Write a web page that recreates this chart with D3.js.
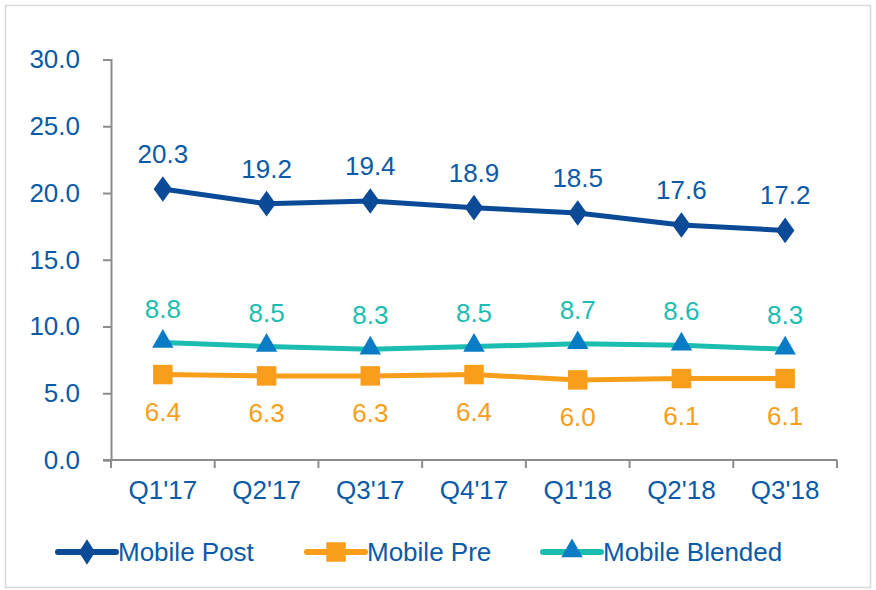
<!DOCTYPE html>
<html>
<head>
<meta charset="utf-8">
<script src="https://cdn.jsdelivr.net/npm/d3@7"></script>
<style>
  html, body { margin: 0; padding: 0; background: #fff; }
  svg { display: block; font-family: "Liberation Sans", Arial, sans-serif; }
</style>
</head>
<body>
<svg id="chart" width="876" height="590"></svg>
<script>
// Quarterly values per mobile segment
const quarters = ["Q1'17", "Q2'17", "Q3'17", "Q4'17", "Q1'18", "Q2'18", "Q3'18"];
const mobilePost = [20.3, 19.2, 19.4, 18.9, 18.5, 17.6, 17.2];
const mobilePre = [6.4, 6.3, 6.3, 6.4, 6.0, 6.1, 6.1];
const mobileBlended = [8.8, 8.5, 8.3, 8.5, 8.7, 8.6, 8.3];
const yTicks = [0, 5, 10, 15, 20, 25, 30];
const seriesNames = ["Mobile Post", "Mobile Pre", "Mobile Blended"];

const svg = d3.select("#chart");
const fontSize = 26;

// outer frame
svg.append("rect")
  .attr("x", 5.5).attr("y", 5.5).attr("width", 865).attr("height", 582)
  .attr("fill", "#fff").attr("stroke", "#d9d9d9").attr("stroke-width", 1.5);

const plotLeft = 111, plotRight = 837, plotTop = 59.5, plotBottom = 460;
const x = d3.scaleBand().domain(quarters).range([plotLeft, plotRight]);
const y = d3.scaleLinear().domain([0, 30]).range([plotBottom, plotTop]);

const axisColor = "#8c8c8c";
const textBlue = "#0B5AA6";

// y axis
const yAxis = svg.append("g").attr("transform", `translate(${plotLeft},0)`)
  .call(d3.axisLeft(y).tickValues(yTicks).tickSize(8).tickPadding(23)
    .tickFormat(d3.format(".1f")));
yAxis.select(".domain").attr("stroke", axisColor).attr("stroke-width", 2);
yAxis.selectAll(".tick line").attr("stroke", axisColor).attr("stroke-width", 2);
yAxis.selectAll(".tick text").attr("fill", textBlue).attr("font-size", fontSize)
  .attr("font-family", "Liberation Sans, Arial, sans-serif");

// x axis with ticks at category boundaries
const xg = svg.append("g");
xg.append("line").attr("x1", plotLeft - 8).attr("x2", plotRight)
  .attr("y1", plotBottom).attr("y2", plotBottom)
  .attr("stroke", axisColor).attr("stroke-width", 2);
const bounds = quarters.map(q => x(q)).concat([x(quarters[quarters.length - 1]) + x.bandwidth()]);
xg.selectAll("line.tk").data(bounds).join("line").attr("class", "tk")
  .attr("x1", d => d).attr("x2", d => d)
  .attr("y1", plotBottom).attr("y2", plotBottom + 8)
  .attr("stroke", axisColor).attr("stroke-width", 2);
xg.selectAll("text").data(quarters).join("text")
  .attr("x", d => x(d) + x.bandwidth() / 2).attr("y", 499)
  .attr("text-anchor", "middle").attr("fill", textBlue).attr("font-size", fontSize)
  .text(d => d);

const cx = q => x(q) + x.bandwidth() / 2;

const series = [
  { name: seriesNames[0], values: mobilePost, line: "#0A4A97", marker: "#0A4A97", label: "#0B5AA6", shape: d3.symbolDiamond, msize: 190, dy: -26, sw: 5 },
  { name: seriesNames[1], values: mobilePre, line: "#F89E1B", marker: "#F89E1B", label: "#F89E1B", shape: d3.symbolSquare, msize: 380, dy: 46, sw: 5 },
  { name: seriesNames[2], values: mobileBlended, line: "#1CBDB1", marker: "#0A7CC6", label: "#1CBDB1", shape: d3.symbolTriangle, msize: 200, dy: -25, sw: 5 }
];

const lineGen = d3.line().x((d, i) => cx(quarters[i])).y(d => y(d));

series.forEach(s => {
  const g = svg.append("g");
  g.append("path").datum(s.values).attr("d", lineGen)
    .attr("fill", "none").attr("stroke", s.line).attr("stroke-width", s.sw);
  g.selectAll("path.m").data(s.values).join("path").attr("class", "m")
    .attr("d", d3.symbol().type(s.shape).size(s.msize))
    .attr("transform", (d, i) => {
      const sx = s.shape === d3.symbolDiamond ? "scale(1.25,1)" : "";
      const yy = s.shape === d3.symbolTriangle ? y(d) - 1 : y(d);
      return `translate(${cx(quarters[i])},${yy}) ${sx}`;
    })
    .attr("fill", s.marker);
  g.selectAll("text").data(s.values).join("text")
    .attr("x", (d, i) => cx(quarters[i])).attr("y", d => y(d) + s.dy)
    .attr("text-anchor", "middle").attr("fill", s.label).attr("font-size", fontSize)
    .text(d => d3.format(".1f")(d));
});

// legend
const legendX = [58, 307, 543];
const legendY = 552;
series.forEach((s, i) => {
  const g = svg.append("g").attr("transform", `translate(${legendX[i]},${legendY})`);
  g.append("line").attr("x1", 0).attr("x2", 58).attr("y1", 0).attr("y2", 0)
    .attr("stroke", s.line).attr("stroke-width", 6).attr("stroke-linecap", "round");
  g.append("path")
    .attr("d", d3.symbol().type(s.shape).size(s.msize))
    .attr("transform", `translate(29,${s.shape === d3.symbolTriangle ? -1 : 0})` + (s.shape === d3.symbolDiamond ? " scale(1.1,1)" : ""))
    .attr("fill", s.marker);
  g.append("text").attr("x", 60).attr("y", 9)
    .attr("fill", textBlue).attr("font-size", fontSize).text(s.name);
});
</script>
</body>
</html>
